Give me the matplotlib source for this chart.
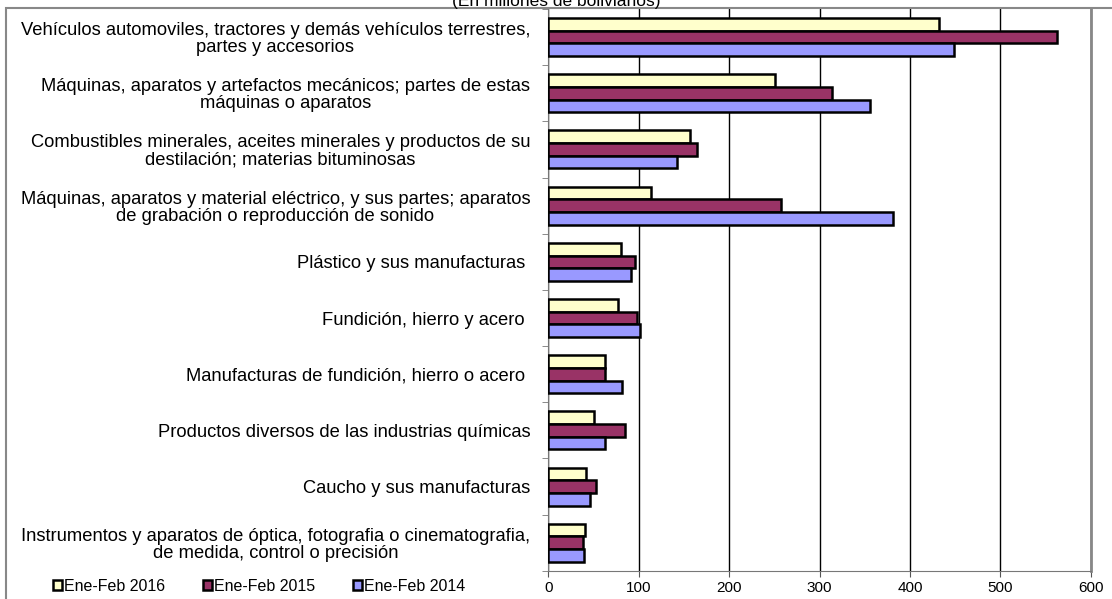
import matplotlib.pyplot as plt
import numpy as np
from matplotlib.patches import Rectangle

plt.rcParams['font.family'] = ['Liberation Sans', 'DejaVu Sans']

categories = [
    "Vehículos automoviles, tractores y demás vehículos terrestres,\npartes y accesorios",
    "Máquinas, aparatos y artefactos mecánicos; partes de estas\nmáquinas o aparatos",
    "Combustibles minerales, aceites minerales y productos de su\ndestilación; materias bituminosas",
    "Máquinas, aparatos y material eléctrico, y sus partes; aparatos\nde grabación o reproducción de sonido",
    "Plástico y sus manufacturas ",
    "Fundición, hierro y acero ",
    "Manufacturas de fundición, hierro o acero ",
    "Productos diversos de las industrias químicas",
    "Caucho y sus manufacturas",
    "Instrumentos y aparatos de óptica, fotografia o cinematografia,\nde medida, control o precisión",
]
series_names = ["Ene-Feb 2016", "Ene-Feb 2015", "Ene-Feb 2014"]
v2016 = [432, 251, 157, 114, 81, 77, 63, 51, 42, 41]
v2015 = [562, 314, 164, 257, 96, 98, 63, 85, 53, 39]
v2014 = [449, 356, 142, 381, 92, 102, 82, 63, 46, 40]
x_ticks = [0, 100, 200, 300, 400, 500, 600]

colors = ["#FFFFCC", "#993366", "#9999FF"]

fig = plt.figure(figsize=(11.12, 5.99), dpi=100)
ax = fig.add_axes([0.493, 0.047, 0.488, 0.938])

y = np.arange(len(categories))
h = 0.225
for i, (vals, name, c) in enumerate(zip([v2016, v2015, v2014], series_names, colors)):
    ax.barh(y + (i - 1) * h, vals, height=h, color=c, edgecolor="black",
            linewidth=1.8, label=name, zorder=3)

ax.set_xlim(0, 600)
ax.set_ylim(len(categories) - 0.5, -0.5)
ax.set_xticks(x_ticks)
ax.tick_params(axis="x", labelsize=11, length=4, color="#555555", pad=3)
ax.set_yticks(y)
ax.set_yticklabels(categories, fontsize=13.2, multialignment="center", linespacing=1.0)
ax.tick_params(axis="y", length=0, pad=13)
ax.set_yticks(np.arange(len(categories) + 1) - 0.5, minor=True)
ax.tick_params(axis="y", which="minor", length=4, color="#777777")

ax.grid(axis="x", color="black", linewidth=1, zorder=0)
ax.spines["top"].set_visible(False)
ax.spines["right"].set_color("#888888")
ax.spines["right"].set_linewidth(2)
ax.spines["left"].set_color("#777777")
ax.spines["bottom"].set_color("#777777")

# outer chart border
fig.patches.append(Rectangle((0.005, -0.01), 1.2, 0.996, transform=fig.transFigure,
                             fill=False, edgecolor="#888888", linewidth=1.5))

fig.text(0.5, 0.998, "(En millones de bolivianos)", ha="center", va="center", fontsize=12.5)

fig.legend(loc="lower left", bbox_to_anchor=(0.035, -0.015), ncol=3, frameon=False,
           fontsize=11.5, handlelength=0.55, handleheight=0.55, handletextpad=0.15,
           columnspacing=2.35)

fig.savefig("out.png", dpi=100)
